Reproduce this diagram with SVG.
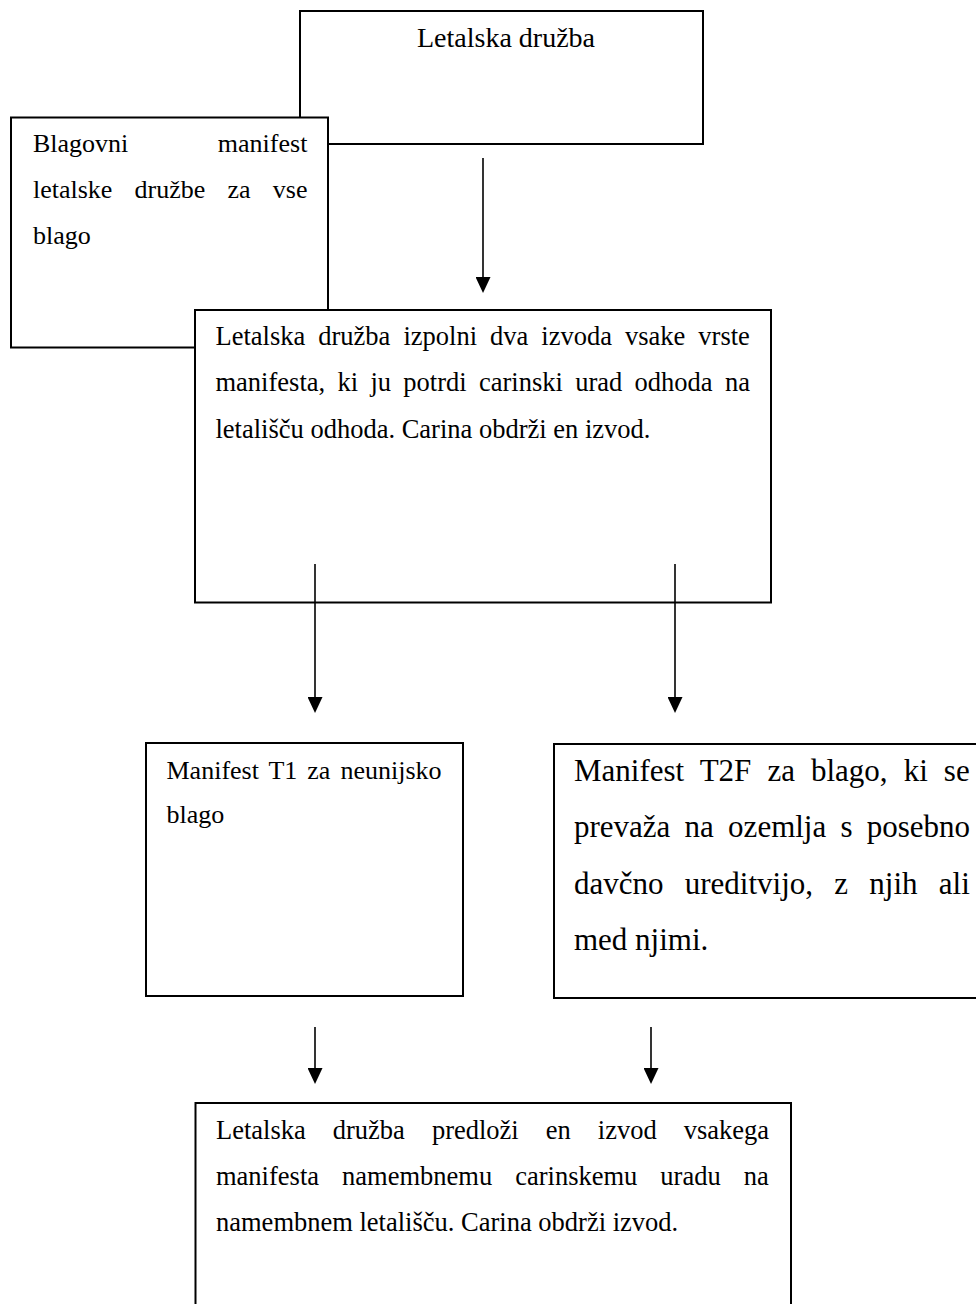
<svg xmlns="http://www.w3.org/2000/svg" width="976" height="1304" viewBox="0 0 976 1304">
  <style>
    .box { fill: #ffffff; stroke: #000000; stroke-width: 2; }
    .t { font-family: "Liberation Serif", "Times New Roman", serif; fill: #000000; }
    .f26 { font-size: 26px; }
    .f265 { font-size: 26.5px; }
    .f28 { font-size: 28px; }
    .f31 { font-size: 31px; }
    .link { fill: none; stroke: #000000; stroke-width: 1.6; marker-end: url(#arrow); }
  </style>
  <defs>
    <marker id="arrow" markerUnits="userSpaceOnUse" markerWidth="16" markerHeight="15" viewBox="0 0 16 15" refX="13" refY="7.5" orient="auto">
      <path d="M0,0 L16,7.5 L0,15 Z" fill="#000000"/>
    </marker>
  </defs>
  <rect width="976" height="1304" fill="#ffffff"/>

  <!-- airline -->
  <g id="airline">
    <rect class="box" x="300" y="11" width="403" height="133"/>
    <text class="t f28" x="417" y="47">Letalska družba</text>
  </g>

  <!-- cargo manifest for all goods -->
  <g id="cargo-manifest">
    <rect class="box" x="11" y="117.5" width="317" height="230"/>
    <text class="t f26" x="33" y="152" style="word-spacing:83px">Blagovni manifest</text>
    <text class="t f26" x="33" y="198" style="word-spacing:15.7px">letalske družbe za vse</text>
    <text class="t f26" x="33" y="244">blago</text>
  </g>

  <!-- departure copies -->
  <g id="departure">
    <rect class="box" x="195" y="310" width="576" height="292.5"/>
    <text class="t f265" x="215.5" y="345" style="word-spacing:6.4px">Letalska družba izpolni dva izvoda vsake vrste</text>
    <text class="t f265" x="215.5" y="391" style="word-spacing:5.7px">manifesta, ki ju potrdi carinski urad odhoda na</text>
    <text class="t f265" x="215.5" y="437.5">letališču odhoda. Carina obdrži en izvod.</text>
  </g>

  <!-- T1 manifest -->
  <g id="manifest-t1">
    <rect class="box" x="146" y="743" width="317" height="253"/>
    <text class="t f26" x="166.5" y="779" style="word-spacing:3.5px">Manifest T1 za neunijsko</text>
    <text class="t f26" x="166.5" y="823">blago</text>
  </g>

  <!-- T2F manifest -->
  <g id="manifest-t2f">
    <rect class="box" x="554" y="744" width="440" height="254"/>
    <text class="t f31" x="574" y="781" style="word-spacing:8.3px">Manifest T2F za blago, ki se</text>
    <text class="t f31" x="574" y="837" style="word-spacing:6.5px">prevaža na ozemlja s posebno</text>
    <text class="t f31" x="574" y="894" style="word-spacing:13.5px">davčno ureditvijo, z njih ali</text>
    <text class="t f31" x="574" y="950">med njimi.</text>
  </g>

  <!-- destination copies -->
  <g id="destination">
    <rect class="box" x="195.5" y="1103" width="595.5" height="230"/>
    <text class="t f265" x="216" y="1139" style="word-spacing:20.4px">Letalska družba predloži en izvod vsakega</text>
    <text class="t f265" x="216" y="1185" style="word-spacing:16.4px">manifesta namembnemu carinskemu uradu na</text>
    <text class="t f265" x="216" y="1231">namembnem letališču. Carina obdrži izvod.</text>
  </g>

  <!-- connectors -->
  <g id="connectors">
    <line class="link" x1="483" y1="158" x2="483" y2="290"/>
    <line class="link" x1="315" y1="564" x2="315" y2="710"/>
    <line class="link" x1="675" y1="564" x2="675" y2="710"/>
    <line class="link" x1="315" y1="1027" x2="315" y2="1081"/>
    <line class="link" x1="651" y1="1027" x2="651" y2="1081"/>
  </g>
</svg>
